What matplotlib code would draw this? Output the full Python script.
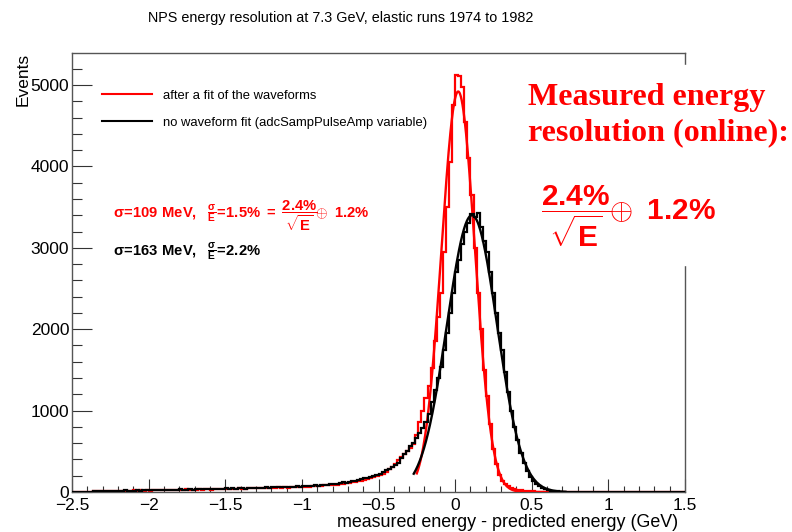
import numpy as np
import matplotlib.pyplot as plt
from matplotlib.lines import Line2D
from matplotlib.patches import Rectangle
from matplotlib.ticker import MultipleLocator, FuncFormatter

plt.rcParams['font.family'] = ['Liberation Sans', 'DejaVu Sans']
plt.rcParams['mathtext.fontset'] = 'custom'
plt.rcParams['mathtext.rm'] = 'Liberation Sans:bold'
plt.rcParams['mathtext.it'] = 'Liberation Sans:bold'
plt.rcParams['mathtext.bf'] = 'Liberation Sans:bold'
plt.rcParams['mathtext.sf'] = 'Liberation Sans:bold'

# histogram binning (GeV): 200 bins of 20 MeV
x_range = [-2.5, 1.5]
n_bins = 200

# after a fit of the waveforms
red_counts = ([0, 0, 0, 0, 0, 0, 0]
              + [10, 14, 9, 12, 15, 11, 13, 16, 12, 18, 14, 17, 13, 19, 15, 20, 16, 22]
              + [18, 23, 21, 19, 25, 22, 27, 24, 20, 26, 29, 25, 31, 27, 24, 30, 33, 28, 35, 31, 29, 36, 33, 38, 35]
              + [40, 37, 42, 39, 44, 41, 38, 45, 43, 48, 46, 50, 44, 52, 49, 54, 51, 56, 53, 58, 55, 60, 57, 62, 59]
              + [62, 66, 64, 70, 73, 71, 78, 82, 80, 88, 92, 90, 98, 104, 110, 108, 118, 126, 132, 140, 150, 158, 168, 180, 192]
              + [205, 225, 250, 280, 310, 345, 390, 430, 470, 500, 540, 590, 700, 860, 1000, 1150, 1300, 1520, 1850, 2150,
                 2450, 2950, 3500, 4050, 4750]
              + [5120, 5110, 4980, 4550, 4100, 3650, 3000, 2450, 2000, 1500, 1180, 840, 530, 340, 210, 140, 100, 70, 52, 40,
                 30, 24, 18, 14, 10]
              + [8, 6, 5, 4, 3]
              + [2, 2, 1, 1] + [0] * 41)

# no waveform fit (adcSampPulseAmp variable)
black_counts = ([0, 0, 0, 0, 0, 0, 0]
                + [12, 10, 15, 13, 11, 16, 14, 12, 17, 15, 19, 13, 18, 16, 21, 17, 19, 23]
                + [20, 24, 22, 26, 21, 28, 25, 23, 29, 27, 31, 26, 30, 34, 29, 33, 31, 36, 32, 38, 34, 37, 40, 36, 41]
                + [43, 39, 46, 42, 48, 45, 41, 50, 47, 52, 49, 55, 51, 57, 53, 59, 56, 61, 58, 64, 60, 66, 63, 68, 65]
                + [70, 68, 75, 72, 80, 78, 86, 84, 92, 98, 96, 104, 112, 118, 116, 126, 134, 140, 150, 160, 168, 178, 190, 200, 212]
                + [225, 240, 265, 285, 310, 335, 360, 420, 470, 500, 560, 600, 660, 720, 790, 860, 960, 1100, 1250, 1400,
                   1530, 1750, 1950, 2200, 2450]
                + [2700, 2850, 3050, 3200, 3300, 3420, 3380, 3430, 3250, 3080, 2950, 2700, 2450, 2200, 1950, 1750, 1480, 1230,
                   1000, 800, 640, 480, 360, 260, 190]
                + [135, 95, 70, 48, 33]
                + [22, 15, 10, 7, 5, 3, 2, 2, 1, 1] + [0] * 35)

# gaussian fits: amplitude, mean, sigma, fit range low, fit range high
red_fit = [4920, 0.02, 0.109, -0.25, 0.60]
black_fit = [3400, 0.11, 0.163, -0.27, 0.72]

labels = ['after a fit of the waveforms', 'no waveform fit (adcSampPulseAmp variable)']


def gaus(p):
    x = np.linspace(p[3], p[4], 300)
    return x, p[0] * np.exp(-0.5 * ((x - p[1]) / p[2]) ** 2)


edges = np.linspace(x_range[0], x_range[1], n_bins + 1)

fig = plt.figure(figsize=(7.92, 5.32), dpi=100)
ax = fig.add_axes([72 / 792, 1 - 492 / 532, 613 / 792, 439 / 532])

ax.stairs(red_counts, edges, color='red', lw=1.6, zorder=2)
xf, yf = gaus(red_fit)
ax.plot(xf, yf, color='red', lw=1.7, zorder=3)
ax.stairs(black_counts, edges, color='black', lw=1.6, zorder=4)
xf, yf = gaus(black_fit)
ax.plot(xf, yf, color='black', lw=1.7, zorder=5)

ax.set_xlim(x_range)
ax.set_ylim(0, 5393)
ax.set_xticks(np.arange(-2.5, 1.51, 0.5))
ax.xaxis.set_minor_locator(MultipleLocator(0.1))
ax.set_yticks(range(0, 5001, 1000))
ax.yaxis.set_minor_locator(MultipleLocator(200))
ax.xaxis.set_major_formatter(FuncFormatter(lambda v, pos: ('%g' % round(v, 2)).replace('-', '\u2212')))
ax.tick_params(which='both', direction='in', labelsize=12.5, width=0.8, color='#333333')
ax.tick_params(axis='y', which='major', length=14.4, pad=2)
ax.tick_params(axis='y', which='minor', length=7.2)
ax.tick_params(axis='x', which='major', length=9.4, pad=4)
ax.tick_params(axis='x', which='minor', length=4.3)
for s in ax.spines.values():
    s.set_color('#555555')
    s.set_linewidth(1.0)

ax.set_xlabel('measured energy - predicted energy (GeV)', fontsize=12.9, loc='right')
ax.xaxis.set_label_coords(0.989, -0.050)
ax.set_ylabel('Events', fontsize=12.5, loc='top')
ax.yaxis.set_label_coords(-0.0677, 1.0)

fig.text(341 / 792, 1 - 18 / 532, 'NPS energy resolution at 7.3 GeV, elastic runs 1974 to 1982',
         ha='center', va='center', fontsize=10.4)

handles = [Line2D([], [], color='red', lw=1.5), Line2D([], [], color='black', lw=1.5)]
ax.legend(handles, labels, loc='upper left', bbox_to_anchor=(0.049, 0.916), frameon=False,
          fontsize=9.4, handlelength=3.8, handletextpad=0.85, borderpad=0, borderaxespad=0,
          labelspacing=1.12)

ax.text(0.0669, 0.6287,
        r'$\mathbf{\sigma\!=\!109\ MeV,\ \ \frac{\sigma}{E}\!=\!1.5\%\ =\ \dfrac{2.4\%}{\sqrt{E}}\!\!\oplus\ 1.2\%}$',
        color='red', va='center', ha='left', fontsize=10.6, transform=ax.transAxes)
ax.text(0.0669, 0.5478, r'$\mathbf{\sigma\!=\!163\ MeV,\ \ \frac{\sigma}{E}\!=\!2.2\%}$',
        color='black', va='center', ha='left', fontsize=10.6, transform=ax.transAxes)

# pasted box on the right
fig.patches.append(Rectangle((520 / 792, 1 - 265 / 532), 272 / 792, 200 / 532,
                             transform=fig.transFigure, color='white', zorder=1))
fig.text(528 / 792, 1 - 105 / 532, 'Measured energy', family='Liberation Serif', weight='bold',
         color='red', fontsize=23.1, va='baseline', ha='left')
fig.text(528 / 792, 1 - 140 / 532, 'resolution (online):', family='Liberation Serif', weight='bold',
         color='red', fontsize=23.1, va='baseline', ha='left')
fig.text(541 / 792, 1 - 216 / 532, r'$\mathbf{\dfrac{2.4\%}{\sqrt{E}}\!\!\oplus\ 1.2\%}$',
         color='red', fontsize=21.5, va='center', ha='left')

fig.savefig('out.png', dpi=100)
